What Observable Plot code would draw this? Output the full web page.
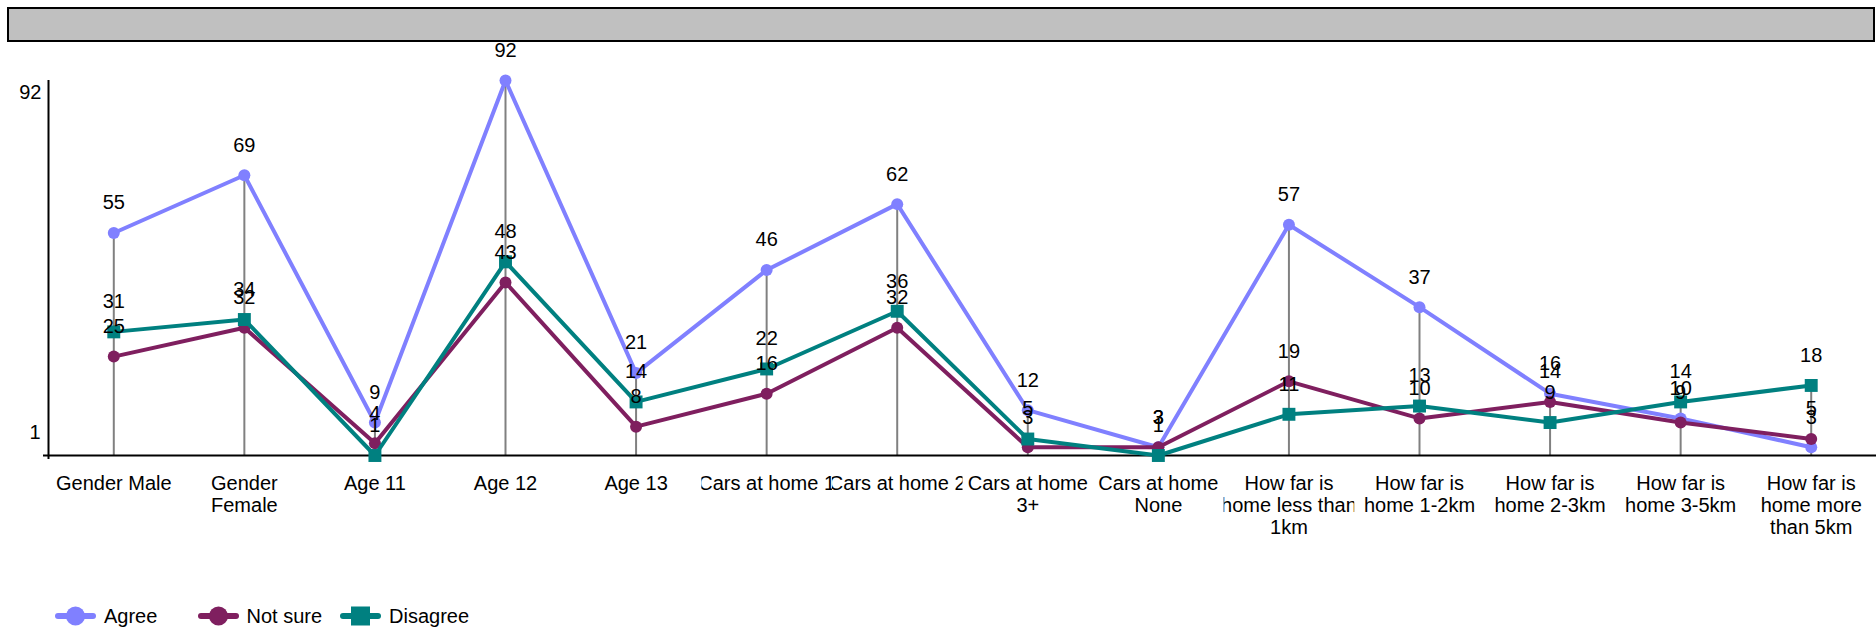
<!DOCTYPE html>
<html>
<head>
<meta charset="utf-8">
<script src="https://cdn.jsdelivr.net/npm/d3@7"></script>
<script src="https://cdn.jsdelivr.net/npm/@observablehq/plot@0.6"></script>
<style>
  html, body { margin: 0; padding: 0; background: #fff; }
  body { font-family: "Liberation Sans", Arial, sans-serif; color: #000; }
  #wrap { position: relative; width: 1876px; height: 632px; overflow: hidden; }
  #chart { position: absolute; left: 0; top: 0; }
  #title { position: absolute; left: 7px; top: 7px; width: 1864px; height: 31px; background: #c0c0c0; border: 2px solid #000; }
  #legend { position: absolute; left: 55px; top: 604px; height: 24px; display: flex; align-items: center; font-size: 20px; }
  #legend .item { width: 142.5px; display: flex; align-items: center; }
  #legend svg { margin-right: 8px; display: block; }
</style>
</head>
<body>
<div id="wrap">
  <div id="chart"></div>
  <div id="title"></div>
  <div id="legend"></div>
</div>
<script>
// ---- data ----
const categories = [
  "Gender Male", "Gender Female", "Age 11", "Age 12", "Age 13",
  "Cars at home 1", "Cars at home 2", "Cars at home 3+", "Cars at home None",
  "How far is home less than 1km", "How far is home 1-2km", "How far is home 2-3km",
  "How far is home 3-5km", "How far is home more than 5km"
];
const tickLabels = [
  "Gender Male", "Gender\nFemale", "Age 11", "Age 12", "Age 13",
  "Cars at home 1", "Cars at home 2", "Cars at home\n3+", "Cars at home\nNone",
  "How far is\nhome less than\n1km", "How far is\nhome 1-2km", "How far is\nhome 2-3km",
  "How far is\nhome 3-5km", "How far is\nhome more\nthan 5km"
];
const agree    = [55, 69, 9, 92, 21, 46, 62, 12, 3, 57, 37, 16, 10, 3];
const notSure  = [25, 32, 4, 43, 8, 16, 32, 3, 3, 19, 10, 14, 9, 5];
const disagree = [31, 34, 1, 48, 14, 22, 36, 5, 1, 11, 13, 9, 14, 18];
const seriesNames  = ["Agree", "Not sure", "Disagree"];
const seriesColors = ["#8080ff", "#7f1f5f", "#008080"];
const seriesSymbols = ["circle", "circle", "square"];
const yTicks = [1, 92];

// ---- build ----
const series = [agree, notSure, disagree];
const idx = d3.range(categories.length);
const xDomain = [-0.5, categories.length - 0.5];
const rows = series.flatMap((vals, s) => vals.map((v, i) => ({i, v, s})));
const maxes = idx.map(i => ({i, v: d3.max(series, a => a[i])}));

const marks = [
  Plot.ruleX(maxes, {x: "i", y1: yTicks[0], y2: "v", stroke: "#808080", strokeWidth: 2}),
  Plot.ruleY([yTicks[0]], {stroke: "#000", strokeWidth: 2}),
  Plot.ruleX([xDomain[0]], {y1: 0, y2: yTicks[1], stroke: "#000", strokeWidth: 2}),
  Plot.axisY([yTicks[0]], {tickSize: 5, tickFormat: () => "", strokeWidth: 2, label: null}),
  Plot.axisY([yTicks[1]], {tickSize: 0, tickPadding: 7, dy: 12, label: null}),
  Plot.axisY([yTicks[0]], {tickSize: 0, tickPadding: 8, dy: -23, label: null}),
  Plot.axisX(idx, {tickFormat: i => tickLabels[i], tickSize: 0, tickPadding: 19, lineHeight: 1.1, label: null})
];
series.forEach((vals, s) => {
  const data = rows.filter(r => r.s === s);
  marks.push(Plot.line(data, {x: "i", y: "v", stroke: seriesColors[s], strokeWidth: 4}));
  marks.push(Plot.dot(data, {x: "i", y: "v", fill: seriesColors[s], stroke: "none",
    symbol: seriesSymbols[s], r: seriesSymbols[s] === "square" ? 7.3 : 6}));
});
marks.push(Plot.text(rows, {x: "i", y: "v", text: d => String(d.v), dy: -30, fill: "#000"}));

const chart = Plot.plot({
  width: 1876, height: 580,
  marginLeft: 48, marginRight: 0, marginTop: 80, marginBottom: 125,
  x: {type: "linear", domain: xDomain, label: null},
  y: {domain: [yTicks[0], yTicks[1]], label: null},
  style: {fontSize: "20px", fontFamily: "'Liberation Sans', Arial, sans-serif", color: "#000", background: "transparent", overflow: "visible"},
  marks
});
document.getElementById("chart").appendChild(chart);

// clip each category label to its band (as the original does)
try {
  const xs = chart.scale("x");
  const bw = Math.abs((xs.range[1] - xs.range[0]) / (xs.domain[1] - xs.domain[0]));
  const ns = "http://www.w3.org/2000/svg";
  const defs = document.createElementNS(ns, "defs");
  chart.insertBefore(defs, chart.firstChild);
  const texts = chart.querySelectorAll('g[aria-label="x-axis tick label"] text');
  texts.forEach((t, k) => {
    const b = t.getBBox();
    const cx = b.x + b.width / 2;
    const cp = document.createElementNS(ns, "clipPath");
    cp.setAttribute("id", "xlabclip" + k);
    cp.setAttribute("clipPathUnits", "userSpaceOnUse");
    const r = document.createElementNS(ns, "rect");
    r.setAttribute("x", cx - bw / 2);
    r.setAttribute("y", b.y - 10);
    r.setAttribute("width", bw);
    r.setAttribute("height", b.height + 20);
    cp.appendChild(r);
    defs.appendChild(cp);
    t.setAttribute("clip-path", `url(#xlabclip${k})`);
  });
} catch (e) { console.error(e); }

// legend
const legend = document.getElementById("legend");
seriesNames.forEach((name, s) => {
  const item = document.createElement("div");
  item.className = "item";
  const sym = seriesSymbols[s] === "square"
    ? `<rect x="11" y="0.5" width="19" height="19" fill="${seriesColors[s]}"/>`
    : `<circle cx="20.5" cy="10" r="9.5" fill="${seriesColors[s]}"/>`;
  item.innerHTML = `<svg width="41" height="20"><line x1="3" y1="10" x2="38" y2="10" stroke="${seriesColors[s]}" stroke-width="6" stroke-linecap="round"/>${sym}</svg><span>${name}</span>`;
  legend.appendChild(item);
});
</script>
</body>
</html>
